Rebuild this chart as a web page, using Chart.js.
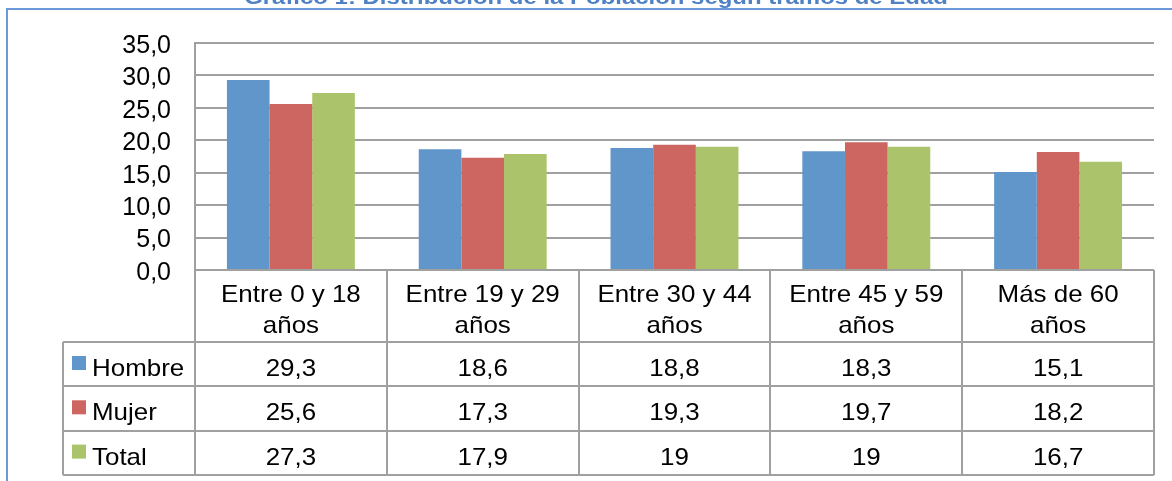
<!DOCTYPE html>
<html>
<head>
<meta charset="utf-8">
<script src="https://cdn.jsdelivr.net/npm/chart.js@4/dist/chart.umd.min.js"></script>
<style>
  html, body { margin: 0; padding: 0; background: #ffffff; }
  #wrap { width: 1172px; height: 481px; }
</style>
</head>
<body>
<div id="wrap"><canvas id="edadChart" width="1172" height="481"></canvas></div>
<script>
// Datos
const categories = [
    ['Entre 0 y 18', 'años'],
    ['Entre 19 y 29', 'años'],
    ['Entre 30 y 44', 'años'],
    ['Entre 45 y 59', 'años'],
    ['Más de 60', 'años']
];
const seriesNames = ['Hombre', 'Mujer', 'Total'];
const hombre = [29.3, 18.6, 18.8, 18.3, 15.1];
const mujer = [25.6, 17.3, 19.3, 19.7, 18.2];
const total = [27.3, 17.9, 19, 19, 16.7];
const yTicks = [0, 5, 10, 15, 20, 25, 30, 35];
const chartTitle = 'Gráfico 1: Distribución de la Población según tramos de Edad';

const colors = ['#6096c9', '#cd6560', '#abc46b'];
const lineGray = '#a0a0a0';
const fontFamily = '"Liberation Sans", Arial, sans-serif';

function fmt(v) {
    return String(v).replace('.', ',');
}

// Marco, título y tabla de datos (estilo Excel)
const excelTable = {
    id: 'excelTable',
    beforeDraw(chart) {
        const ctx = chart.ctx;
        ctx.save();
        ctx.fillStyle = '#ffffff';
        ctx.fillRect(0, 0, chart.width, chart.height);

        // marco exterior
        ctx.strokeStyle = '#6a9bd8';
        ctx.lineWidth = 2;
        ctx.beginPath();
        ctx.moveTo(7, chart.height + 2);
        ctx.lineTo(7, 9);
        ctx.lineTo(chart.width + 2, 9);
        ctx.stroke();

        // título (cortado arriba)
        ctx.fillStyle = '#4f81c4';
        ctx.font = 'bold 21px ' + fontFamily;
        ctx.textAlign = 'center';
        ctx.textBaseline = 'alphabetic';
        ctx.translate(596, 4);
        ctx.scale(1.14, 1);
        ctx.fillText(chartTitle, 0, 0);
        ctx.restore();
    },
    afterDraw(chart) {
        const ctx = chart.ctx;
        const area = chart.chartArea;
        const n = categories.length;
        const colW = (area.right - area.left) / n;
        const headH = 72;
        const rowH = 44.3;
        const legendLeft = 63;
        const top = area.bottom;
        const headBottom = top + headH;
        const tableBottom = headBottom + rowH * seriesNames.length;
        const rows = [hombre, mujer, total];

        ctx.save();
        ctx.strokeStyle = lineGray;
        ctx.lineWidth = 2;
        ctx.beginPath();
        // líneas horizontales
        ctx.moveTo(area.left, Math.round(top));
        ctx.lineTo(area.right, Math.round(top));
        for (let r = 0; r <= seriesNames.length; r++) {
            const y = Math.round(headBottom + r * rowH);
            ctx.moveTo(legendLeft, y);
            ctx.lineTo(area.right, y);
        }
        // líneas verticales
        for (let c = 0; c <= n; c++) {
            const x = Math.round(area.left + c * colW);
            ctx.moveTo(x, top);
            ctx.lineTo(x, tableBottom);
        }
        ctx.moveTo(legendLeft, headBottom);
        ctx.lineTo(legendLeft, tableBottom);
        ctx.stroke();

        ctx.fillStyle = '#000000';
        ctx.font = '24px ' + fontFamily;
        ctx.textBaseline = 'alphabetic';

        function text(str, x, y, align) {
            ctx.save();
            ctx.textAlign = align;
            ctx.translate(x, y);
            ctx.scale(1.08, 1);
            ctx.fillText(str, 0, 0);
            ctx.restore();
        }

        // cabecera de categorías
        categories.forEach((lines, c) => {
            const cx = chart.scales.x.getPixelForValue(c);
            lines.forEach((ln, k) => {
                text(ln, cx, top + 31.5 + k * 31, 'center');
            });
        });

        // filas de series
        rows.forEach((vals, r) => {
            const rowTop = headBottom + r * rowH;
            ctx.fillStyle = colors[r];
            ctx.fillRect(72, rowTop + 14, 14, 14);
            ctx.fillStyle = '#000000';
            text(seriesNames[r], 92, rowTop + 34, 'left');
            vals.forEach((v, c) => {
                const cx = chart.scales.x.getPixelForValue(c);
                text(fmt(v), cx, rowTop + 34, 'center');
            });
        });
        ctx.restore();
    }
};

const ctx = document.getElementById('edadChart').getContext('2d');
const edadChart = new Chart(ctx, {
    type: 'bar',
    data: {
        labels: categories,
        datasets: [
            { label: seriesNames[0], data: hombre, backgroundColor: colors[0] },
            { label: seriesNames[1], data: mujer, backgroundColor: colors[1] },
            { label: seriesNames[2], data: total, backgroundColor: colors[2] }
        ]
    },
    options: {
        responsive: false,
        animation: false,
        categoryPercentage: 0.667,
        barPercentage: 1,
        layout: {
            padding: { top: 43, bottom: 211, left: 0, right: 18 }
        },
        scales: {
            x: {
                display: false
            },
            y: {
                min: 0,
                max: 35,
                afterBuildTicks: function (scale) {
                    scale.ticks = yTicks.map(v => ({ value: v }));
                },
                afterFit: function (scale) {
                    scale.width = 195;
                },
                border: { display: true, color: lineGray, width: 2 },
                grid: { color: lineGray, lineWidth: 2, drawTicks: false },
                ticks: {
                    autoSkip: false,
                    padding: 24,
                    labelOffset: 3,
                    color: '#000000',
                    font: { family: fontFamily, size: 25 },
                    callback: function (value) {
                        return value.toFixed(1).replace('.', ',');
                    }
                }
            }
        },
        plugins: {
            legend: { display: false },
            tooltip: { enabled: false },
            title: { display: false }
        }
    },
    plugins: [excelTable]
});
</script>
</body>
</html>
